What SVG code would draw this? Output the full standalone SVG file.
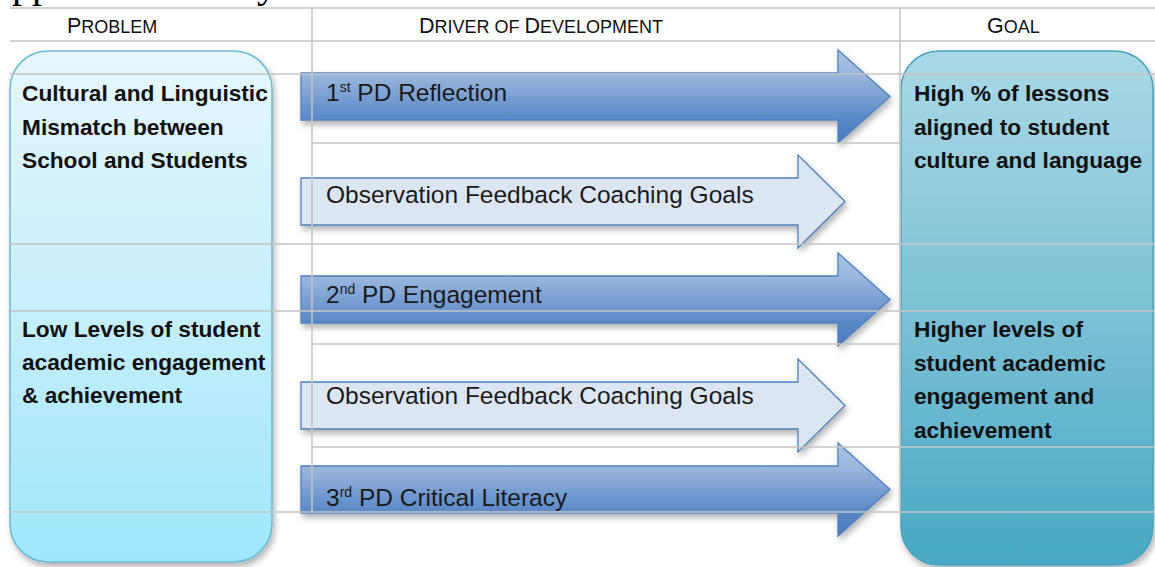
<svg xmlns="http://www.w3.org/2000/svg" width="1155" height="567" viewBox="0 0 1155 567">
  <defs>
    <linearGradient id="gProblem" x1="0" y1="0" x2="0" y2="1">
      <stop offset="0" stop-color="#E6F7FD"/>
      <stop offset="0.5" stop-color="#C6EFFC"/>
      <stop offset="1" stop-color="#9EE6FC"/>
    </linearGradient>
    <linearGradient id="gGoal" x1="0" y1="0" x2="0" y2="1">
      <stop offset="0" stop-color="#AAD9E6"/>
      <stop offset="0.5" stop-color="#7DC1D6"/>
      <stop offset="1" stop-color="#47A8C5"/>
    </linearGradient>
    <linearGradient id="gDark" x1="0" y1="0" x2="0" y2="1">
      <stop offset="0" stop-color="#A9C2E4"/>
      <stop offset="0.25" stop-color="#9CB8DE"/>
      <stop offset="0.75" stop-color="#5887C6"/>
      <stop offset="1" stop-color="#4A7BBE"/>
    </linearGradient>
    <filter id="shadow" x="-5%" y="-10%" width="115%" height="130%">
      <feDropShadow dx="2" dy="4" stdDeviation="3" flood-color="#000" flood-opacity="0.3"/>
    </filter>
  </defs>
  <style>
    .hdr { font-family: "Liberation Sans", Arial, sans-serif; fill: #111; }
    .cap { font-size: 21.5px; }
    .sc { font-size: 18px; }
    .box { font-family: "Liberation Sans", Arial, sans-serif; font-weight: bold; font-size: 22.7px; fill: #111; }
    .arr { font-family: "Liberation Sans", Arial, sans-serif; font-size: 24.5px; fill: #1a1a1a; }
    .sup { font-size: 14px; }
    .dark { fill: url(#gDark); stroke: #4F81BD; stroke-width: 1.3; filter: url(#shadow); }
    .light { fill: #DCE6F2; stroke: #4F81BD; stroke-width: 1.3; filter: url(#shadow); }
    .grid line { stroke: #C4C4C4; stroke-width: 1.5; }
    .frag { font-family: "Liberation Serif", "Times New Roman", serif; font-size: 40px; fill: #000; }
  </style>

  <rect width="1155" height="567" fill="#FFFFFF"/>

  <g id="fragment">
    <text class="frag" x="12" y="-3">pp</text>
    <text class="frag" x="257" y="-3">y</text>
  </g>

  <g id="headers">
    <text class="hdr" x="67" y="33"><tspan class="cap">P</tspan><tspan class="sc">ROBLEM</tspan></text>
    <text class="hdr" x="419" y="33"><tspan class="cap">D</tspan><tspan class="sc">RIVER OF </tspan><tspan class="cap">D</tspan><tspan class="sc">EVELOPMENT</tspan></text>
    <text class="hdr" x="987" y="33"><tspan class="cap">G</tspan><tspan class="sc">OAL</tspan></text>
  </g>

  <g id="problem">
    <rect x="10" y="51" width="262" height="511" rx="38" ry="38" fill="url(#gProblem)" stroke="#6BBBD3" stroke-width="1.5" filter="url(#shadow)"/>
    <text class="box" x="22" y="101">Cultural and Linguistic</text>
    <text class="box" x="22" y="134.5">Mismatch between</text>
    <text class="box" x="22" y="168">School and Students</text>
    <text class="box" x="22" y="337">Low Levels of student</text>
    <text class="box" x="22" y="370">academic engagement</text>
    <text class="box" x="22" y="403">&amp; achievement</text>
  </g>

  <g id="goal">
    <rect x="901" y="51" width="252" height="514" rx="38" ry="38" fill="url(#gGoal)" stroke="#4BA3BF" stroke-width="1.5" filter="url(#shadow)"/>
    <text class="box" x="914" y="101">High % of lessons</text>
    <text class="box" x="914" y="134.5">aligned to student</text>
    <text class="box" x="914" y="168">culture and language</text>
    <text class="box" x="914" y="337">Higher levels of</text>
    <text class="box" x="914" y="370.5">student academic</text>
    <text class="box" x="914" y="404">engagement and</text>
    <text class="box" x="914" y="437.5">achievement</text>
  </g>

  <g id="connectors">
    <g id="arrow-pd1">
      <path class="dark" d="M301,73 H838 V50 L890,96.5 L838,143 V120 H301 Z"/>
      <text class="arr" x="326" y="101">1<tspan class="sup" dy="-9">st</tspan><tspan dy="9"> PD Reflection</tspan></text>
    </g>
    <g id="arrow-obs1">
      <path class="light" d="M301,178 H798 V155 L845,201.5 L798,248 V225 H301 Z"/>
      <text class="arr" x="326" y="203">Observation Feedback Coaching Goals</text>
    </g>
    <g id="arrow-pd2">
      <path class="dark" d="M301,276 H838 V253 L890,299.5 L838,346 V323 H301 Z"/>
      <text class="arr" x="326" y="303">2<tspan class="sup" dy="-9">nd</tspan><tspan dy="9"> PD Engagement</tspan></text>
    </g>
    <g id="arrow-obs2">
      <path class="light" d="M301,382 H798 V359 L845,405.5 L798,452 V429 H301 Z"/>
      <text class="arr" x="326" y="404">Observation Feedback Coaching Goals</text>
    </g>
    <g id="arrow-pd3">
      <path class="dark" d="M301,466 H838 V443 L890,489.5 L838,536 V513 H301 Z"/>
      <text class="arr" x="326" y="506">3<tspan class="sup" dy="-9">rd</tspan><tspan dy="9"> PD Critical Literacy</tspan></text>
    </g>
  </g>

  <g id="grid" class="grid">
    <line x1="10" y1="8" x2="1155" y2="8"/>
    <line x1="10" y1="41" x2="1155" y2="41"/>
    <line x1="10" y1="74" x2="1155" y2="74"/>
    <line x1="312" y1="143" x2="900" y2="143"/>
    <line x1="10" y1="244" x2="1155" y2="244"/>
    <line x1="10" y1="311" x2="1155" y2="311"/>
    <line x1="312" y1="344" x2="900" y2="344"/>
    <line x1="312" y1="447" x2="1155" y2="447"/>
    <line x1="10" y1="512" x2="1155" y2="512"/>
    <line x1="312" y1="8" x2="312" y2="512"/>
    <line x1="900" y1="8" x2="900" y2="512"/>
  </g>
</svg>
